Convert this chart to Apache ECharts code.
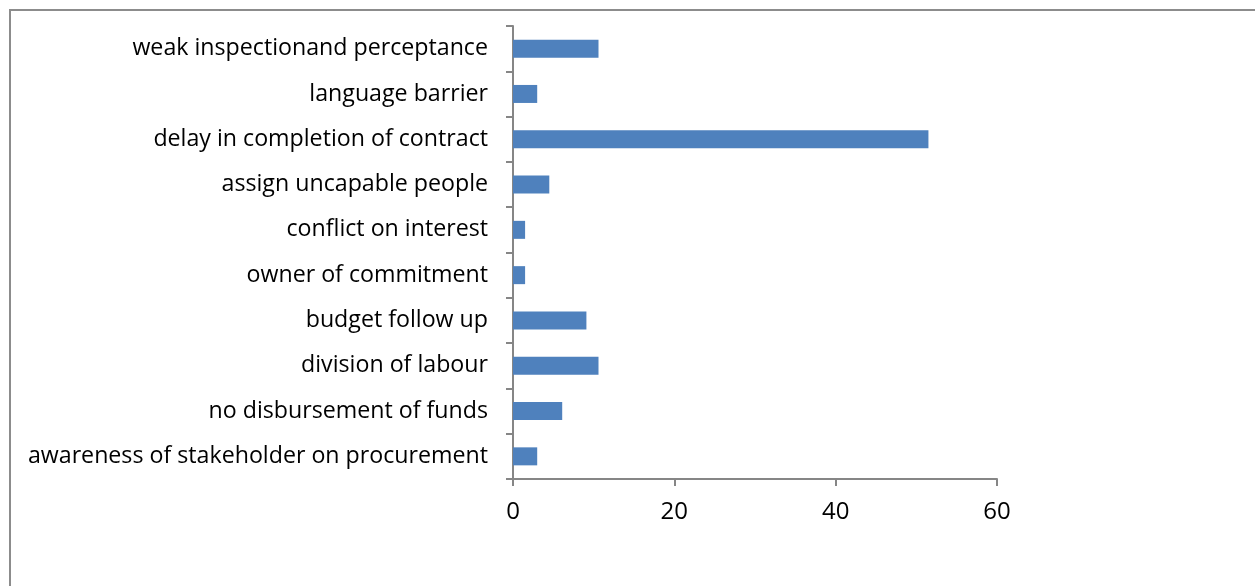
<!DOCTYPE html>
<html>
<head>
<meta charset="utf-8">
<script src="https://cdn.jsdelivr.net/npm/echarts@6/dist/echarts.min.js"></script>
<style>
  html, body { margin: 0; padding: 0; background: #fff; }
  #frame { position: absolute; left: 9px; top: 9px; width: 1260px; height: 600px;
           border-left: 2px solid #8c8c8c; border-top: 2px solid #8c8c8c; box-sizing: border-box; }
  #chart { position: absolute; left: 0; top: 0; width: 1255px; height: 586px; }
</style>
</head>
<body>
<div id="frame"></div>
<div id="chart"></div>
<script>
// Problems reported in procurement follow-up (percent of responses)
const categories = [
  'weak inspectionand perceptance',
  'language barrier',
  'delay in completion of contract',
  'assign uncapable people',
  'conflict on interest',
  'owner of commitment',
  'budget follow up',
  'division of labour',
  'no disbursement of funds',
  'awareness of stakeholder on procurement'
];
const percentages = [10.6, 3.0, 51.5, 4.5, 1.5, 1.5, 9.1, 10.6, 6.1, 3.0];
const xTicks = { min: 0, max: 60, interval: 20 };

const axisGray = '#868686';
const chart = echarts.init(document.getElementById('chart'));
chart.setOption({
  animation: false,
  grid: { left: 513, right: 258, top: 26, bottom: 107, containLabel: false },
  xAxis: {
    type: 'value',
    min: xTicks.min, max: xTicks.max, interval: xTicks.interval,
    axisLine: { show: true, lineStyle: { color: axisGray, width: 2 } },
    axisTick: { show: true, length: 7, lineStyle: { color: axisGray, width: 2 } },
    splitLine: { show: false },
    axisLabel: { color: '#000', fontSize: 24, fontFamily: 'Open Sans', margin: 21 }
  },
  yAxis: {
    type: 'category',
    inverse: true,
    data: categories,
    axisLine: { show: true, lineStyle: { color: axisGray, width: 2 } },
    axisTick: { show: true, length: 7, lineStyle: { color: axisGray, width: 2 } },
    axisLabel: { color: '#000', fontSize: 23.2, fontFamily: 'Open Sans', margin: 25 }
  },
  series: [{
    type: 'bar',
    data: percentages,
    barWidth: 18,
    itemStyle: { color: '#4f81bd' }
  }]
});
</script>
</body>
</html>
